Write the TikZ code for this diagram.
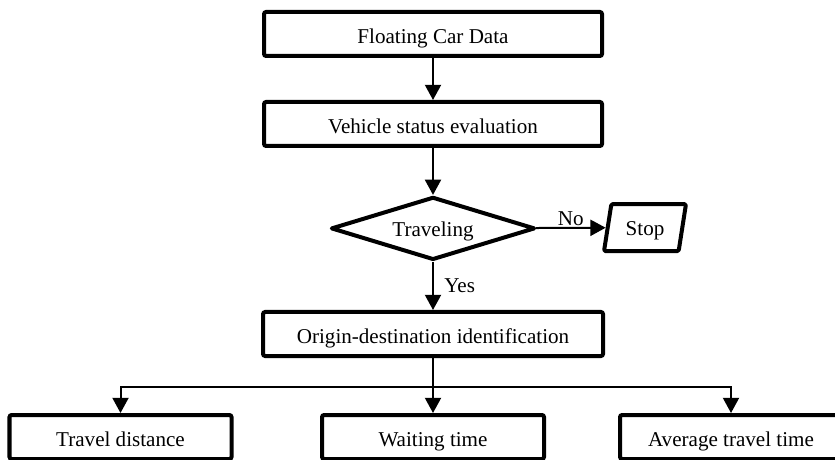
\documentclass[tikz,border=0pt]{standalone}
\usepackage{fontspec}
\setmainfont{Liberation Serif}
\usetikzlibrary{shapes,arrows.meta,positioning,calc}

\begin{document}
\begin{tikzpicture}[
    box/.style={rectangle, draw, line width=0.1cm, rounded corners=1.5pt, minimum width=8.45cm, minimum height=1.1cm, align=center, text height=0.5cm, text depth=0.02cm, font=\fontsize{15}{18}\selectfont},
    outbox/.style={box, minimum width=5.55cm},
    decision/.style={diamond, draw, line width=0.1cm, line join=round, aspect=3.2, inner sep=0pt, minimum width=5.1cm, minimum height=1.575cm, text height=0.45cm, text depth=0.02cm, font=\fontsize{15}{18}\selectfont},
    endbox/.style={trapezium, trapezium left angle=79, trapezium right angle=101, trapezium stretches=true, draw, line width=0.1cm, line join=round, rounded corners=1pt, minimum width=2.05cm, minimum height=1.175cm, text height=0.42cm, text depth=0.02cm, font=\fontsize{15}{18}\selectfont},
    lbl/.style={font=\fontsize{15}{18}\selectfont},
    arrow/.style={-{Triangle[length=0.38cm,width=0.4cm]}, line width=0.05cm},
    line/.style={line width=0.05cm}
]
\useasboundingbox (0,0) rectangle (20.875,-11.5);
\clip (0,0) rectangle (20.875,-11.5);

% Input data
\node[box] (fcd) at (10.825,-0.85) {Floating Car Data};
\node[box] (status) at (10.825,-3.1) {Vehicle status evaluation};

% Decision
\node[decision] (travel) at (10.825,-5.71) {Traveling};
\node[endbox] (stop) at (16.125,-5.69) {Stop};

% OD identification
\node[box, minimum width=8.5cm] (od) at (10.825,-8.35) {Origin-destination identification};

% Outputs
\coordinate (split) at (10.825,-9.675);
\node[outbox] (dist) at (3.0125,-10.925) {Travel distance};
\node[outbox] (wait) at (10.825,-10.925) {Waiting time};
\node[outbox] (avg) at (18.275,-10.925) {Average travel time};

% Arrows
\draw[arrow] (fcd) -- (status);
\draw[arrow] (status) -- (travel);
\draw[arrow] (travel) -- (stop) node[midway, above, lbl, inner sep=1pt] {No};
\draw[arrow] (travel) -- (od) node[midway, right, lbl, xshift=4pt] {Yes};
\draw[arrow] (od) -- (wait);
\draw[arrow] (split) -| (dist);
\draw[arrow] (split) -| (avg);

\end{tikzpicture}
\end{document}
